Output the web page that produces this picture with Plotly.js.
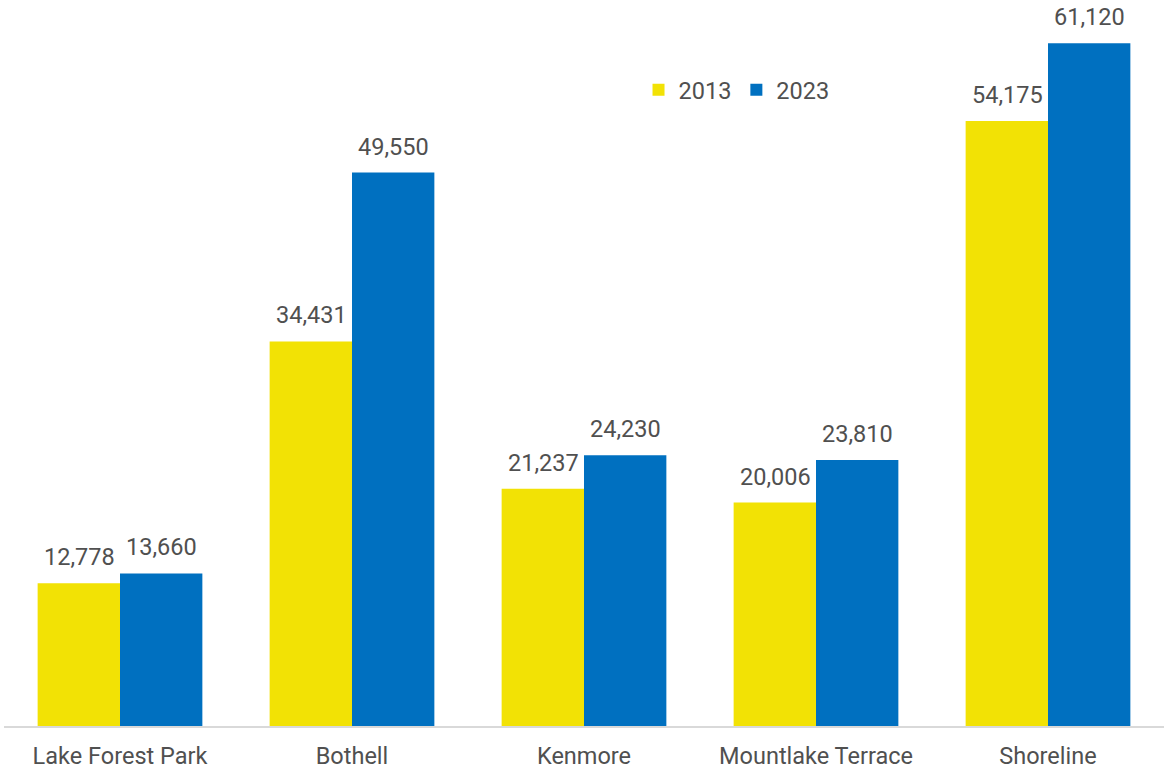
<!DOCTYPE html>
<html><head><meta charset="utf-8">
<script src="https://cdn.plot.ly/plotly-3.0.1.min.js"></script>
<style>html,body{margin:0;padding:0;background:#fff}#chart{width:1166px;height:770px}</style>
</head><body><div id="chart"></div>
<script>
const cities = ["Lake Forest Park", "Bothell", "Kenmore", "Mountlake Terrace", "Shoreline"];
const values2013 = [12778, 34431, 21237, 20006, 54175];
const values2023 = [13660, 49550, 24230, 23810, 61120];
const seriesNames = ["2013", "2023"];
const colors = ["#F2E205", "#0070C0"];
const fmt = v => v.toLocaleString("en-US");
const font = {family: "Roboto, sans-serif", size: 23.5, color: "#505050"};
const series = [values2013, values2023];
const traces = series.map((vals, i) => ({
  type: "bar", name: seriesNames[i], x: cities, y: vals,
  marker: {color: colors[i]}, hoverinfo: "x+y"
}));
const annotations = [];
series.forEach((vals, i) => {
  vals.forEach((v, j) => {
    annotations.push({
      x: cities[j], y: v, xref: "x", yref: "y",
      text: fmt(v), showarrow: false, font: font,
      xanchor: "center", yanchor: "bottom",
      xshift: i === 0 ? -41 : 41, yshift: 10
    });
  });
});
const layout = {
  width: 1166, height: 770,
  margin: {l: 4, r: 2, t: 0, b: 44},
  paper_bgcolor: "#fff", plot_bgcolor: "#fff",
  barmode: "group", bargap: 0.29, bargroupgap: 0,
  font: font,
  xaxis: {showline: true, linecolor: "#D9D9D9", linewidth: 1.5, ticks: "", ticklabelstandoff: 8, tickfont: font, fixedrange: true},
  yaxis: {range: [0, 65000], visible: false, showgrid: false, zeroline: false},
  legend: {orientation: "h", x: 0.547, y: 0.876, xanchor: "left", yanchor: "middle", font: font, itemwidth: 30, traceorder: "normal"},
  annotations: annotations,
  showlegend: true
};
Plotly.newPlot("chart", traces, layout, {displayModeBar: false, staticPlot: true});
</script></body></html>
